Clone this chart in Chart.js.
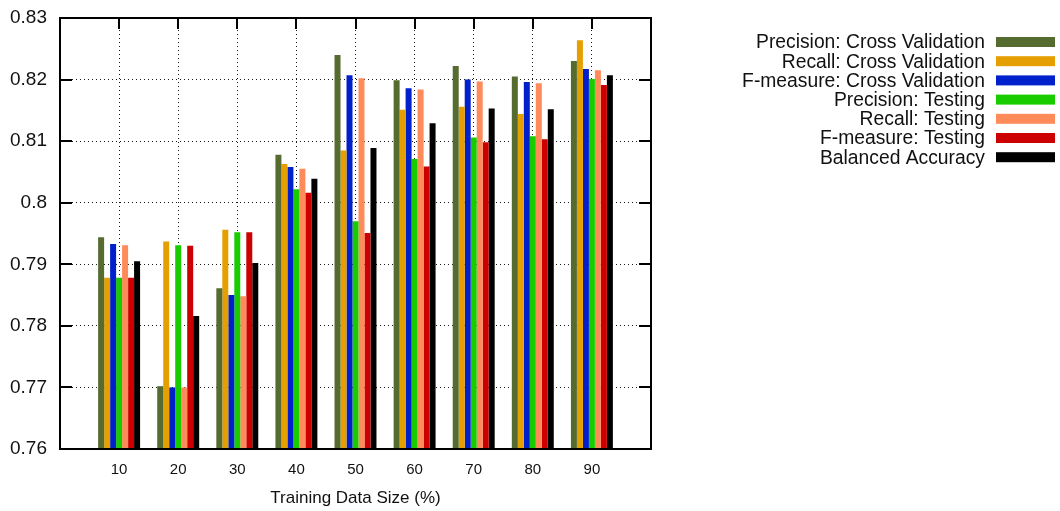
<!DOCTYPE html>
<html>
<head>
<meta charset="utf-8">
<script src="https://cdn.jsdelivr.net/npm/chart.js@4.4.1/dist/chart.umd.min.js"></script>
<style>
  html, body { margin: 0; padding: 0; background: #fff; }
  #wrap { width: 1060px; height: 511px; position: relative; }
</style>
</head>
<body>
<div id="wrap"><canvas id="c"></canvas></div>
<script>
// Training set sizes (%) along the x axis
const trainingSizes = [10, 20, 30, 40, 50, 60, 70, 80, 90];

// Score per training size for each metric
const precisionCV   = [0.7944, 0.7702, 0.7861, 0.8078, 0.8240, 0.8199, 0.8222, 0.8205, 0.8230];
const recallCV      = [0.7878, 0.7937, 0.7956, 0.8063, 0.8085, 0.8151, 0.8156, 0.8144, 0.8264];
const fmeasureCV    = [0.7933, 0.7700, 0.7850, 0.8058, 0.8207, 0.8186, 0.8200, 0.8196, 0.8217];
const precisionTest = [0.7878, 0.7931, 0.7952, 0.8022, 0.7970, 0.8071, 0.8106, 0.8108, 0.8201];
const recallTest    = [0.7931, 0.7700, 0.7848, 0.8055, 0.8202, 0.8184, 0.8197, 0.8194, 0.8215];
const fmeasureTest  = [0.7878, 0.7930, 0.7952, 0.8016, 0.7951, 0.8059, 0.8098, 0.8103, 0.8191];
const balancedAcc   = [0.7905, 0.7816, 0.7902, 0.8039, 0.8089, 0.8129, 0.8153, 0.8152, 0.8207];

const seriesNames = [
  'Precision: Cross Validation',
  'Recall: Cross Validation',
  'F-measure: Cross Validation',
  'Precision: Testing',
  'Recall: Testing',
  'F-measure: Testing',
  'Balanced Accuracy'
];
const seriesValues = [precisionCV, recallCV, fmeasureCV, precisionTest, recallTest, fmeasureTest, balancedAcc];
const seriesColors = ['#556b2f', '#e69f00', '#0020cc', '#19cc00', '#ff8a5a', '#cc0000', '#000000'];

// Y axis tick values
const yTickValues = [0.76, 0.77, 0.78, 0.79, 0.80, 0.81, 0.82, 0.83];
const xTitle = 'Training Data Size (%)';

const FONT = "'Liberation Sans', Arial, Helvetica, sans-serif";
Chart.defaults.font.family = FONT;
Chart.defaults.color = '#111';

// Frame, inward tick marks and a right-aligned key drawn around the plot area
const frameTicksKey = {
  id: 'frameTicksKey',
  beforeDatasetsDraw(chart) {
    const { ctx, chartArea: a, scales: { x, y } } = chart;
    ctx.save();
    ctx.strokeStyle = '#000';
    ctx.lineWidth = 2;
    ctx.beginPath();
    trainingSizes.forEach(v => {
      const px = Math.round(x.getPixelForValue(v));
      ctx.moveTo(px, a.top); ctx.lineTo(px, a.top + 11);
      ctx.moveTo(px, a.bottom); ctx.lineTo(px, a.bottom - 11);
    });
    yTickValues.forEach(v => {
      const py = Math.round(y.getPixelForValue(v));
      ctx.moveTo(a.left, py); ctx.lineTo(a.left + 12, py);
      ctx.moveTo(a.right, py); ctx.lineTo(a.right - 12, py);
    });
    ctx.stroke();
    ctx.restore();
  },
  afterDatasetsDraw(chart) {
    const { ctx, chartArea: a } = chart;
    ctx.save();
    ctx.strokeStyle = '#000';
    ctx.lineWidth = 2;
    ctx.strokeRect(a.left, a.top, a.right - a.left, a.bottom - a.top);
    ctx.restore();
  },
  afterDraw(chart) {
    const { ctx } = chart;
    ctx.save();
    ctx.font = '19.3px ' + FONT;
    ctx.textAlign = 'right';
    ctx.textBaseline = 'middle';
    chart.data.datasets.forEach((ds, i) => {
      const cy = 42 + i * 19.2;
      ctx.fillStyle = '#111';
      ctx.fillText(ds.label, 985, cy + 1);
      ctx.fillStyle = ds.backgroundColor;
      ctx.fillRect(996, cy - 5, 59, 10);
    });
    ctx.restore();
  }
};

new Chart(document.getElementById('c'), {
  type: 'bar',
  data: {
    datasets: seriesNames.map((name, i) => ({
      label: name,
      data: trainingSizes.map((s, j) => ({ x: s, y: seriesValues[i][j] })),
      backgroundColor: seriesColors[i],
      borderWidth: 0,
      base: 0.76
    }))
  },
  options: {
    responsive: true,
    maintainAspectRatio: false,
    animation: false,
    devicePixelRatio: 1,
    categoryPercentage: 0.71,
    barPercentage: 1.0,
    layout: { padding: { left: 0, top: 18, right: 409, bottom: 0 } },
    plugins: { legend: { display: false }, tooltip: { enabled: false } },
    scales: {
      x: {
        type: 'linear',
        min: 0,
        max: 100,
        offset: false,
        afterBuildTicks: s => { s.ticks = trainingSizes.map(v => ({ value: v })); },
        afterFit: s => { s.height = 62; s.paddingLeft = 0; s.paddingRight = 0; },
        ticks: { font: { size: 15 }, padding: 12, callback: v => String(v), autoSkip: false, maxRotation: 0 },
        grid: { color: 'rgba(0,0,0,0.9)', lineWidth: 1, drawTicks: false, offset: false },
        border: { display: false, dash: [1, 3] },
        title: { display: true, text: xTitle, font: { size: 17 }, padding: { top: 0, bottom: 2 }, color: '#111' }
      },
      y: {
        min: 0.76,
        max: 0.83,
        afterBuildTicks: s => { s.ticks = yTickValues.map(v => ({ value: v })); },
        afterFit: s => { s.width = 60; s.paddingTop = 0; s.paddingBottom = 0; },
        ticks: { font: { size: 19 }, padding: 13, callback: v => String(+v.toFixed(2)) },
        grid: { color: 'rgba(0,0,0,0.9)', lineWidth: 1, drawTicks: false },
        border: { display: false, dash: [1, 3] }
      }
    }
  },
  plugins: [frameTicksKey]
});
</script>
</body>
</html>
